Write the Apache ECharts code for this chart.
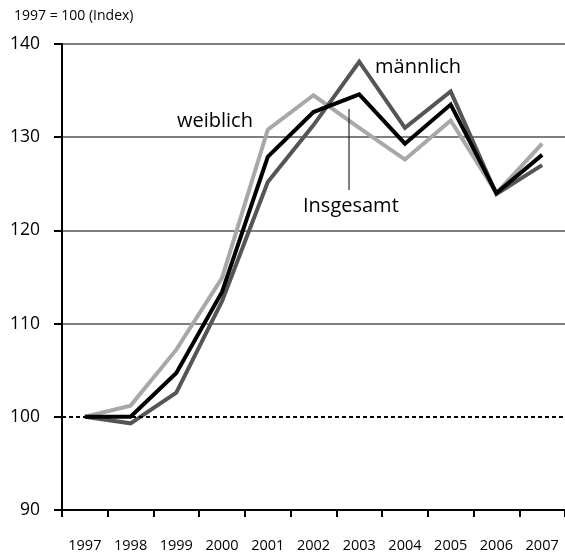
<!DOCTYPE html>
<html>
<head>
<meta charset="utf-8">
<script src="https://cdn.jsdelivr.net/npm/echarts@6/dist/echarts.min.js"></script>
<style>
html,body{margin:0;padding:0;background:#fff;}
#chart{width:565px;height:559px;}
</style>
</head>
<body>
<div id="chart"></div>
<script>
const years = ['1997','1998','1999','2000','2001','2002','2003','2004','2005','2006','2007'];
const insgesamt = [100, 100.0, 104.7, 113.4, 127.9, 132.7, 134.6, 129.3, 133.5, 124.0, 128.1];
const weiblich  = [100, 101.2, 107.2, 114.9, 130.8, 134.5, 131.0, 127.6, 131.8, 124.0, 129.3];
const maennlich = [100, 99.3, 102.6, 112.4, 125.2, 131.3, 138.1, 131.0, 134.9, 123.9, 127.0];
const yTicks = [90, 100, 110, 120, 130, 140];
const unitLabel = '1997 = 100 (Index)';
const refValue = 100;

const FONT = 'Open Sans';
const chart = echarts.init(document.getElementById('chart'));
const lineSeries = (name, data, color, z) => ({
  name, type: 'line', data, symbol: 'none', z,
  lineStyle: { color, width: 4, join: 'miter' },
  emphasis: { disabled: true }, silent: true, animation: false
});
const option = {
  animation: false,
  textStyle: { fontFamily: FONT },
  title: {
    text: unitLabel, left: 9, top: 4,
    textStyle: { fontFamily: FONT, fontSize: 14, fontWeight: 'normal', color: '#000' }
  },
  grid: { left: 62, top: 44, right: -3, bottom: 49, containLabel: false },
  xAxis: {
    type: 'category', data: years, boundaryGap: true,
    axisLine: { lineStyle: { color: '#000', width: 2 } },
    axisTick: { show: true, length: 7, lineStyle: { color: '#000', width: 2 }, alignWithLabel: false },
    axisLabel: { color: '#000', fontSize: 14.5, margin: 28, fontFamily: FONT, interval: 0 },
    splitLine: { show: false }
  },
  yAxis: {
    type: 'value', min: yTicks[0], max: yTicks[yTicks.length - 1], interval: 10,
    axisLine: { show: true, lineStyle: { color: '#000', width: 2 } },
    axisTick: { show: true, length: 8, lineStyle: { color: '#000', width: 2 } },
    axisLabel: { color: '#000', fontSize: 17.5, margin: 22, fontFamily: FONT },
    splitLine: { show: true, lineStyle: { color: ['rgba(0,0,0,0)', 'rgba(0,0,0,0)', '#555', '#555', '#555', '#555'], width: 1.5 } }
  },
  series: [
    Object.assign(lineSeries('weiblich', weiblich, '#a8a8a8', 3), {
      markLine: {
        silent: true, symbol: 'none', animation: false,
        label: { show: false },
        lineStyle: { color: '#000', type: [4, 3], width: 2 },
        data: [{ yAxis: refValue }]
      }
    }),
    lineSeries('männlich', maennlich, '#555555', 4),
    lineSeries('Insgesamt', insgesamt, '#000000', 5)
  ],
  graphic: [
    { type: 'text', x: 177, y: 121, style: { text: 'weiblich', font: '20px "Open Sans"', fill: '#000', verticalAlign: 'middle' } },
    { type: 'text', x: 375, y: 67, style: { text: 'männlich', font: '20px "Open Sans"', fill: '#000', verticalAlign: 'middle' } },
    { type: 'text', x: 303, y: 206, style: { text: 'Insgesamt', font: '20px "Open Sans"', fill: '#000', verticalAlign: 'middle' } },
    { type: 'line', shape: { x1: 349, y1: 109, x2: 349, y2: 190 }, style: { stroke: '#000', lineWidth: 1 }, z: 10 }
  ]
};
chart.setOption(option);
</script>
</body>
</html>
